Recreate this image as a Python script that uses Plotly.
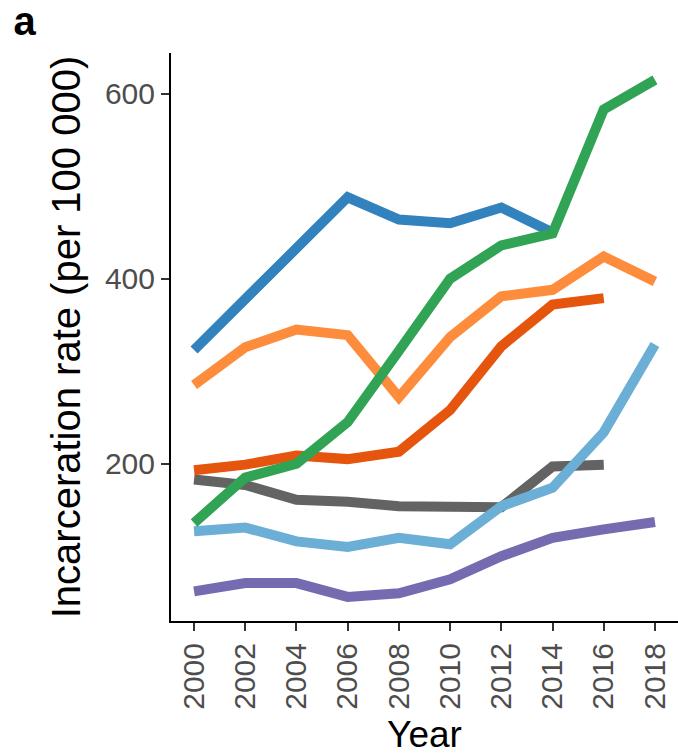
import plotly.graph_objects as go

# Survey years
years = [2000, 2002, 2004, 2006, 2008, 2010, 2012, 2014, 2016, 2018]

# Incarceration rate (per 100 000) by series; None where no data
rate_gray = [183, 177, 161, 159, 154, 154, 153, 197, 199, None]
rate_purple = [62, 71, 71, 56, 60, 75, 100, 120, 129, 137]
rate_blue = [323, 378, 432, 488, 464, 460, 477, 450, None, None]
rate_darkorange = [193, 199, 209, 205, 213, 258, 327, 372, 379, None]
rate_orange = [285, 326, 345, 339, 272, 337, 381, 388, 424, 397]
rate_lightblue = [127, 131, 116, 110, 120, 113, 154, 174, 234, 329]
rate_green = [136, 185, 200, 245, 322, 400, 436, 449, 583, 615]

series = [
    (rate_gray, "#636363"),
    (rate_purple, "#756bb1"),
    (rate_blue, "#3182bd"),
    (rate_darkorange, "#e6550d"),
    (rate_orange, "#fd8d3c"),
    (rate_lightblue, "#6baed6"),
    (rate_green, "#31a354"),
]

x_ticks = years
y_ticks = [200, 400, 600]

fig = go.Figure()
for values, color in series:
    fig.add_trace(go.Scatter(
        x=years, y=values, mode="lines",
        line=dict(color=color, width=10),
        connectgaps=False, showlegend=False, hoverinfo="skip",
    ))

font_family = "Liberation Sans, Arial, sans-serif"

fig.update_layout(
    width=678, height=755,
    margin=dict(l=171, r=0, t=53, b=134),
    paper_bgcolor="white", plot_bgcolor="white",
    font=dict(family=font_family, color="#4d4d4d"),
    title=dict(
        text="<b>a</b>", x=0.02, xanchor="left",
        y=0.972, yanchor="middle", yref="container",
        font=dict(size=40, color="black", family=font_family),
    ),
    showlegend=False,
)

fig.update_xaxes(
    range=[1999.1, 2018.9],
    tickmode="array", tickvals=x_ticks, ticktext=[str(v) for v in x_ticks],
    tickangle=-90,
    tickfont=dict(size=30, color="#4d4d4d"),
    ticks="outside", ticklen=8, tickwidth=2, tickcolor="#333333",
    showline=True, linecolor="black", linewidth=2,
    showgrid=False, zeroline=False,
    title=dict(text="Year", font=dict(size=37, color="black"), standoff=16),
)
fig.update_yaxes(
    range=[30, 644],
    tickmode="array", tickvals=y_ticks, ticktext=[str(v) for v in y_ticks],
    tickfont=dict(size=30, color="#4d4d4d"),
    ticks="outside", ticklen=8, tickwidth=2, tickcolor="#333333",
    showline=True, linecolor="black", linewidth=2,
    showgrid=False, zeroline=False,
    title=dict(text="Incarceration rate (per 100 000)",
               font=dict(size=40, color="black"), standoff=12),
)

fig.write_html("out.html")
